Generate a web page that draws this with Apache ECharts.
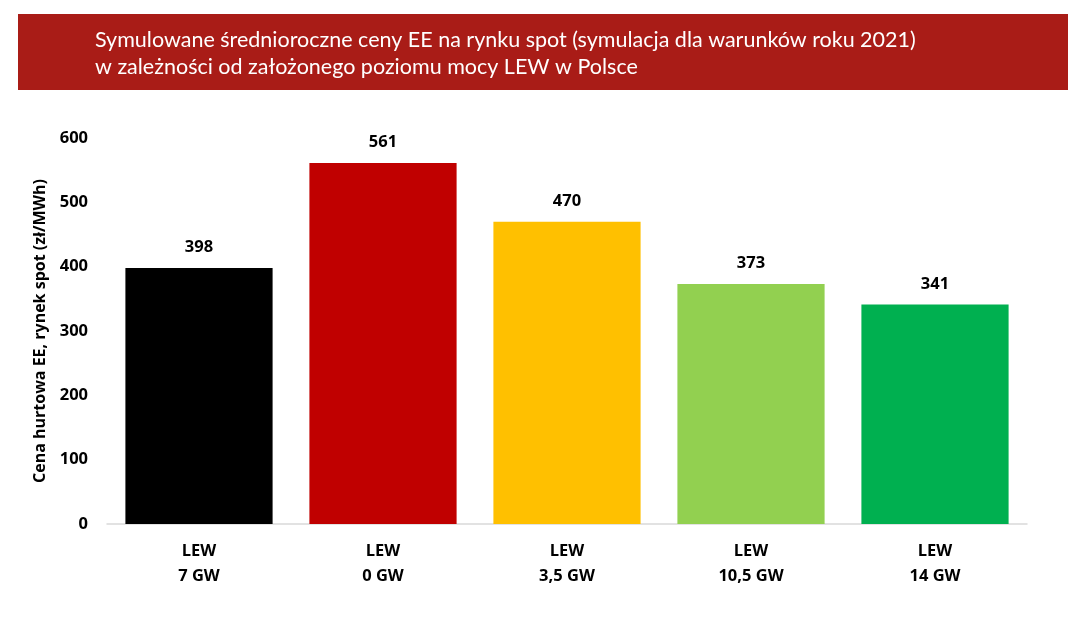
<!DOCTYPE html>
<html><head><meta charset="utf-8">
<script src="https://cdn.jsdelivr.net/npm/echarts@6/dist/echarts.min.js"></script>
<style>html,body{margin:0;padding:0;background:#fff}#c{width:1068px;height:625px}</style>
</head><body><div id="c"></div>
<script>
const categories = ['LEW\n7 GW', 'LEW\n0 GW', 'LEW\n3,5 GW', 'LEW\n10,5 GW', 'LEW\n14 GW'];
const values = [398, 561, 470, 373, 341];
const barColors = ['#000000', '#C00000', '#FFC000', '#92D050', '#00B050'];
const titleLines = ['Symulowane średnioroczne ceny EE na rynku spot (symulacja dla warunków roku 2021)', 'w zależności od założonego poziomu mocy LEW w Polsce'];
const yAxisName = 'Cena hurtowa EE, rynek spot (zł/MWh)';

const chart = echarts.init(document.getElementById('c'));
chart.setOption({
  animation: false,
  graphic: [
    { type: 'rect', left: 18, top: 14, shape: { width: 1050, height: 76 }, style: { fill: '#A91C17' } },
    { type: 'text', left: 95, top: 27, style: { text: titleLines.join('\n'), fill: '#ffffff', font: '21.5px Lato', lineHeight: 27 } }
  ],
  grid: { left: 107, right: 41, top: 138, bottom: 101 },
  xAxis: {
    type: 'category', data: categories,
    axisLine: { lineStyle: { color: '#d9d9d9', width: 1.5 } },
    axisTick: { show: false },
    axisLabel: { color: '#000', fontWeight: 'bold', fontSize: 16.5, fontFamily: 'Open Sans', lineHeight: 25, margin: 15 }
  },
  yAxis: {
    type: 'value', min: 0, max: 600, interval: 100,
    name: yAxisName, nameLocation: 'middle', nameGap: 57,
    nameTextStyle: { color: '#000', fontWeight: 'bold', fontSize: 16, fontFamily: 'Open Sans' },
    axisLine: { show: false }, axisTick: { show: false }, splitLine: { show: false },
    axisLabel: { color: '#000', fontWeight: 'bold', fontSize: 16.5, fontFamily: 'Open Sans', margin: 19 }
  },
  series: [{
    type: 'bar', barWidth: '80%',
    data: values.map((v, i) => ({ value: v, itemStyle: { color: barColors[i] } })),
    label: { show: true, position: 'top', distance: 12, color: '#000', fontWeight: 'bold', fontSize: 16.5, fontFamily: 'Open Sans' }
  }]
});
</script></body></html>
